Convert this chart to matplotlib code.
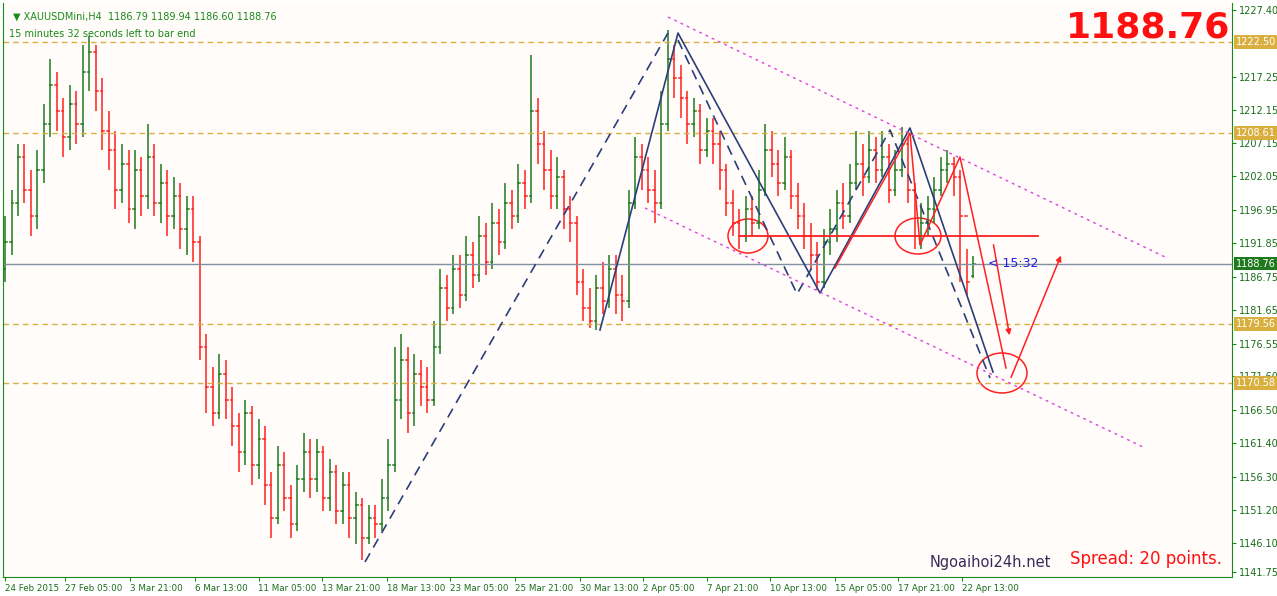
import matplotlib
matplotlib.use("Agg")
import matplotlib.pyplot as plt
from matplotlib.patches import Ellipse

C = [1192,1198,1205,1200,1196,1203,1210,1216,1212,1208,1213,1210,1218,1221,1215,1209,1206,1200,1204,1197,
     1203,1199,1205,1198,1201,1196,1199,1194,1197,1192,1176,1170,1166,1172,1168,1164,1160,1166,1158,1162,
     1155,1150,1158,1153,1149,1156,1160,1156,1160,1153,1157,1151,1155,1150,1152,1147,1150,1149,1153,1158,
     1168,1174,1166,1172,1170,1168,1176,1185,1182,1188,1184,1190,1187,1193,1189,1195,1192,1198,1196,1201,
     1199,1212,1207,1203,1199,1202,1197,1195,1186,1182,1180,1185,1183,1188,1184,1183,1198,1205,1203,1200,
     1198,1210,1220,1217,1214,1210,1212,1206,1209,1207,1203,1198,1195,1193,1197,1195,1200,1206,1204,1201,
     1205,1199,1196,1193,1190,1186,1192,1194,1198,1196,1201,1204,1202,1206,1203,1205,1200,1203,1207,1200,
     1193,1195,1197,1200,1203,1204,1202,1196,1186,1188.76]
O = [1188,1192,1198,1205,1200,1196,1203,1210,1216,1212,1208,1213,1210,1218,1221,1215,1209,1206,1200,1204,
     1197,1203,1199,1205,1198,1201,1196,1199,1194,1197,1192,1176,1170,1166,1172,1168,1164,1160,1166,1158,
     1162,1155,1150,1158,1153,1149,1156,1160,1156,1160,1153,1157,1151,1155,1150,1152,1147,1150,1149,1153,
     1158,1168,1174,1166,1172,1170,1168,1176,1185,1182,1188,1184,1190,1187,1193,1189,1195,1192,1198,1196,
     1201,1199,1212,1207,1203,1199,1202,1197,1195,1186,1182,1180,1185,1183,1188,1184,1183,1198,1205,1203,
     1200,1198,1210,1220,1217,1214,1210,1212,1206,1209,1207,1203,1198,1195,1193,1197,1195,1200,1206,1204,
     1201,1205,1199,1196,1193,1190,1186,1192,1194,1198,1196,1201,1204,1202,1206,1203,1205,1200,1203,1207,
     1200,1193,1195,1197,1200,1203,1204,1202,1196,1186.79]
H = [1196,1200,1207,1207,1203,1206,1213,1220,1218,1214,1216,1215,1222,1223.5,1222,1217,1212,1209,1207,1206,
     1206,1205,1210,1207,1204,1203,1202,1201,1199,1199,1193,1178,1173,1175,1174,1170,1166,1168,1167,1165,
     1164,1157,1161,1160,1155,1158,1163,1162,1162,1161,1159,1158,1157,1157,1154,1153,1152,1152,1156,1162,
     1176,1178,1176,1175,1174,1173,1180,1188,1187,1190,1190,1193,1192,1196,1195,1198,1197,1201,1200,1204,
     1203,1220.5,1214,1209,1206,1205,1203,1199,1196,1188,1185,1187,1189,1190,1190,1187,1200,1208,1207,1205,
     1203,1215,1224.3,1222,1219,1215,1214,1213,1211,1211,1209,1204,1200,1197,1199,1199,1203,1210,1209,1206,
     1208,1206,1201,1198,1195,1192,1194,1197,1200,1201,1204,1209,1207,1209,1208,1209,1207,1206,1209.5,1208,
     1201,1198,1199,1202,1205,1206,1205,1203,1191,1189.94]
L = [1186,1190,1196,1198,1193,1194,1201,1208,1209,1205,1206,1207,1208,1215,1212,1206,1203,1197,1198,1195,
     1194,1196,1197,1196,1195,1193,1194,1191,1190,1189,1174,1166,1164,1165,1165,1161,1157,1158,1155,1156,
     1152,1147,1149,1151,1147,1148,1154,1153,1154,1151,1151,1149,1149,1147,1146,1143.6,1146,1147,1148,1151,
     1157,1165,1163,1164,1167,1166,1167,1175,1180,1181,1182,1183,1185,1186,1187,1188,1190,1191,1194,1195,
     1197,1198,1204,1200,1197,1197,1194,1192,1184,1180,1179,1178.6,1181,1182,1181,1180,1182,1197,1200,1198,
     1195,1197,1209,1214,1211,1207,1208,1204,1205,1204,1200,1196,1193,1191,1192,1193,1194,1199,1202,1199,
     1200,1197,1194,1191,1188,1184.7,1185,1190,1192,1194,1195,1200,1199,1201,1201,1202,1198,1199,1202,1198,
     1191,1191,1193,1195,1199,1201,1199,1186,1184,1186.6]

price_ticks = [1227.40,1217.25,1212.15,1207.15,1202.05,1196.95,1191.85,1186.75,1181.65,1176.55,1171.60,
               1166.50,1161.40,1156.30,1151.20,1146.10,1141.75]
levels = [1222.50, 1208.61, 1179.56, 1170.58]
last_price = 1188.76
date_labels = ["24 Feb 2015","27 Feb 05:00","3 Mar 21:00","6 Mar 13:00","11 Mar 05:00","13 Mar 21:00",
               "18 Mar 13:00","23 Mar 05:00","25 Mar 21:00","30 Mar 13:00","2 Apr 05:00","7 Apr 21:00",
               "10 Apr 13:00","15 Apr 05:00","17 Apr 21:00","22 Apr 13:00"]
date_idx = [0,9.2,19.2,29.2,39,48.8,58.8,68.5,78.5,88.5,98.2,108,117.7,127.7,137.4,147.2]

# pixel helpers for annotation placement
def px(x): return (x - 5) / 6.5
def py(y): return 1227.4 - (y - 10) * 0.1524

W, Hh = 1277, 596
fig = plt.figure(figsize=(W/100, Hh/100), dpi=100)
fig.patch.set_facecolor("white")
ax = fig.add_axes([3/W, 19/Hh, 1229/W, 574/Hh])
ax.set_facecolor("#fffcfa")
ax.set_xlim(px(3), px(1232))
ax.set_ylim(py(577), py(3))

GREEN, RED = "#1f7a1f", "#ff2020"
for i in range(len(C)):
    col = GREEN if C[i] >= O[i] else RED
    ax.plot([i, i], [L[i], H[i]], color=col, lw=1.1, solid_capstyle="butt")
    ax.plot([i-0.3, i], [O[i], O[i]], color=col, lw=1.1)
    ax.plot([i, i+0.3], [C[i], C[i]], color=col, lw=1.1)

for lv in levels:
    ax.axhline(lv, color="#d9b040", ls=(0, (4, 3)), lw=1)
ax.axhline(last_price, color="#8090a0", lw=1)

NAVY = "#2a3f7a"
def line(pts, **kw):
    ax.plot([px(p[0]) for p in pts], [py(p[1]) for p in pts], **kw)
line([(600,330),(678,33),(820,293),(910,128),(993,372)], color=NAVY, lw=1.2)
line([(365,562),(668,33)], color=NAVY, lw=1.2, ls=(0,(6,4)))
line([(678,40),(797,294),(890,130),(990,378)], color=NAVY, lw=1.2, ls=(0,(6,4)))
line([(835,268),(910,133),(920,245),(960,157),(1006,368)], color=RED, lw=1.1)
line([(740,236),(1038,236)], color=RED, lw=1.3)
line([(668,17),(1165,257)], color="#e040e0", lw=1, ls=(0,(2,3)))
line([(645,208),(1143,447)], color="#e040e0", lw=1, ls=(0,(2,3)))
for (x0,y0,x1,y1) in [(993,242,1010,338),(1010,380,1062,253)]:
    ax.annotate("", xy=(px(x1),py(y1)), xytext=(px(x0),py(y0)),
                arrowprops=dict(arrowstyle="-|>", color=RED, lw=1.1, mutation_scale=8))
for (cx,cy,w,h) in [(748,236,40,34),(918,236,46,36),(1002,373,50,40)]:
    ax.add_patch(Ellipse((px(cx),py(cy)), w/6.5, h*0.1524, fill=False, ec=RED, lw=1.1))

ax.text(px(988), last_price, "< 15:32", color="#2020e0", fontsize=9, va="center")

ax.yaxis.tick_right()
ax.set_yticks(price_ticks)
ax.set_yticklabels([f"{p:.2f}" for p in price_ticks], fontsize=7, color="#1a6e1a")
ax.set_xticks(date_idx)
ax.set_xticklabels(date_labels, fontsize=6.3, ha="left", color="#1a6e1a")
ax.tick_params(axis="both", length=3, color="#1a8a1a", pad=2)
ax.spines["top"].set_visible(False)
for s in ["left","right","bottom"]:
    ax.spines[s].set_color("#1a8a1a")

for lv in levels:
    ax.text(1.003, lv, f"{lv:.2f}", transform=ax.get_yaxis_transform(), fontsize=7, color="white",
            va="center", ha="left", zorder=10, clip_on=False,
            bbox=dict(boxstyle="square,pad=0.2", fc="#d9b040", ec="none"))
ax.text(1.003, last_price, f"{last_price:.2f}", transform=ax.get_yaxis_transform(), fontsize=7,
        color="white", va="center", ha="left", zorder=10, clip_on=False,
        bbox=dict(boxstyle="square,pad=0.2", fc="#1f7a1f", ec="none"))

ax.text(0.008, 0.985, "\u25bc XAUUSDMini,H4  1186.79 1189.94 1186.60 1188.76", transform=ax.transAxes,
        fontsize=7, color="#1a8a1a", va="top")
ax.text(0.005, 0.955, "15 minutes 32 seconds left to bar end", transform=ax.transAxes,
        fontsize=7, color="#1a8a1a", va="top")
fig.text(1230/W, 1-27/Hh, "1188.76", color="#ff1010", fontsize=26, fontweight="bold", ha="right", va="center")
fig.text(930/W, 1-563/Hh, "Ngoaihoi24h.net", color="#3a2a5a", fontsize=10.5, va="center")
fig.text(1070/W, 1-559/Hh, "Spread: 20 points.", color="#ff1010", fontsize=12, va="center")

fig.savefig("out.png", dpi=100, facecolor=fig.get_facecolor())
